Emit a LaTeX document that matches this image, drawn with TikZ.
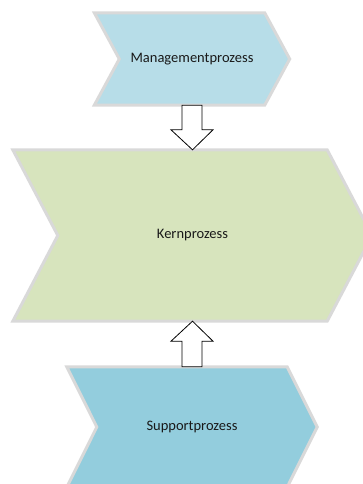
\documentclass[tikz,border=0pt]{standalone}
\usepackage{fontspec}
\setmainfont{Carlito}
\usetikzlibrary{calc,backgrounds}

\definecolor{mgmtblau}{RGB}{183,221,232}
\definecolor{kerngruen}{RGB}{215,228,189}
\definecolor{supportblau}{RGB}{147,205,221}
\definecolor{randgrau}{RGB}{217,217,217}

\tikzset{
    prozess/.style={draw=none, inner sep=0pt, font=\fontsize{14.5}{17}\selectfont, text=black!90},
    chevronrand/.style={draw=randgrau, line width=3pt, line join=miter},
    blockpfeil/.style={draw=black, fill=white, line width=0.8pt, line join=miter}
}

% chevron around a node: name, tip depth, fill colour
\newcommand{\chevron}[3]{
    \draw[chevronrand, fill=#3] (#1.north west) -- ([xshift=-#2]#1.north east) -- (#1.east)
        -- ([xshift=-#2]#1.south east) -- (#1.south west) -- ([xshift=#2]#1.west) -- cycle;
}

% block arrow from one anchor to another
\newcommand{\blockpfeil}[2]{
    \draw[blockpfeil] let \p1=(#1), \p2=(#2), \p3=($(#2)!20pt!(#1)$) in
        (\x1-10pt,\y1) -- (\x1-10pt,\y3) -- (\x1-21pt,\y3) -- (\x2,\y2)
        -- (\x1+21pt,\y3) -- (\x1+10pt,\y3) -- (\x1+10pt,\y1) -- cycle;
}

\begin{document}
\begin{tikzpicture}[x=1pt,y=-1pt]
    \useasboundingbox (0,0) rectangle (362,484);

    \node[prozess, minimum width=195pt, minimum height=92pt] (mgmt) at (192,59) {Managementprozess};
    \node[prozess, minimum width=359pt, minimum height=171pt] (kern) at (192.5,235.5) {Kernprozess};
    \node[prozess, minimum width=250pt, minimum height=120pt] (support) at (192,427) {Supportprozess};

    \begin{scope}[on background layer]
        \chevron{mgmt}{25pt}{mgmtblau}
        \chevron{kern}{45pt}{kerngruen}
        \chevron{support}{30pt}{supportblau}
    \end{scope}

    \blockpfeil{mgmt.south}{kern.north}
    \blockpfeil{support.north}{kern.south}
\end{tikzpicture}
\end{document}
